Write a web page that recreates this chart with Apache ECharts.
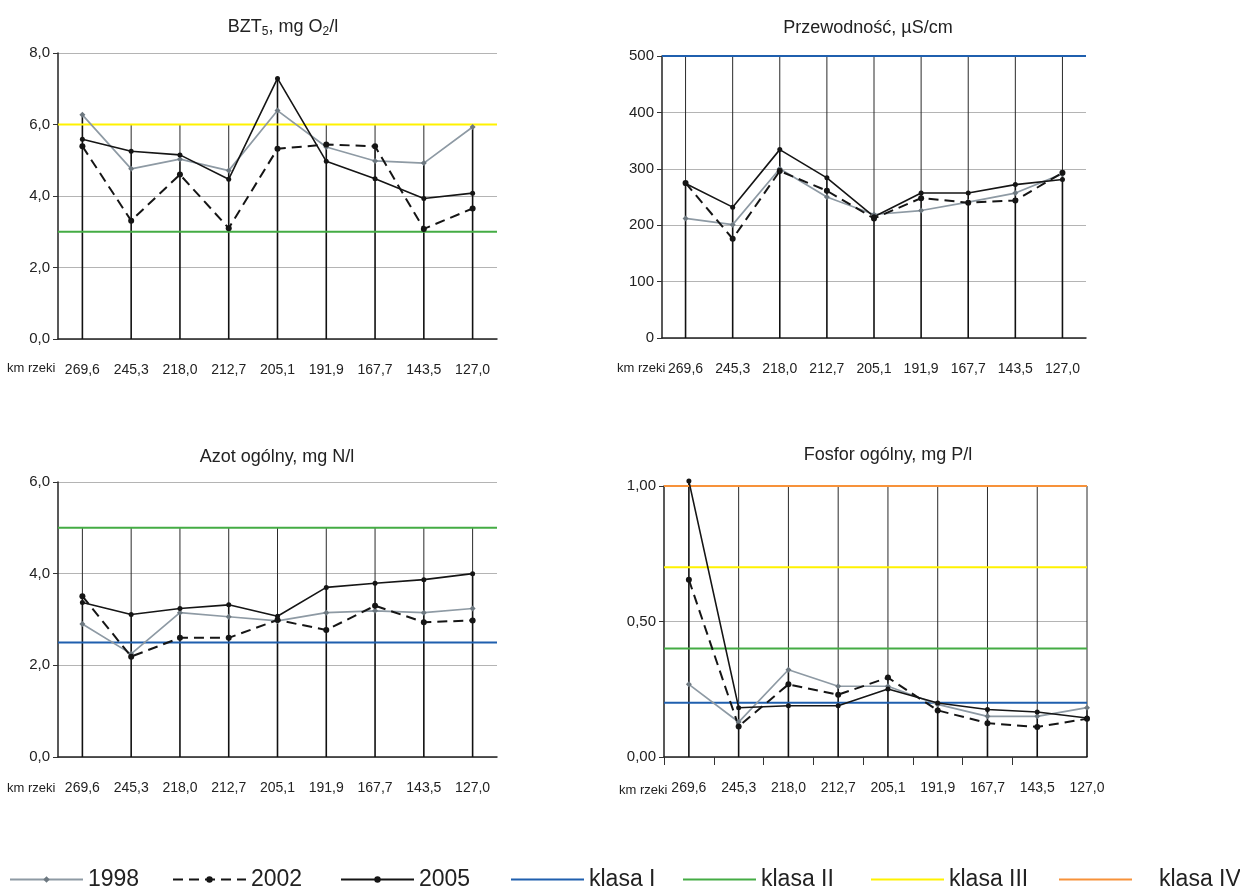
<!DOCTYPE html>
<html><head><meta charset="utf-8">
<script src="https://cdn.jsdelivr.net/npm/echarts@6/dist/echarts.min.js"></script>
<style>html,body{margin:0;padding:0;background:#fff}#c{width:1240px;height:888px}</style>
</head><body><div id="c"></div>
<script>
// ---- data ----
const categories = ['269,6','245,3','218,0','212,7','205,1','191,9','167,7','143,5','127,0'];
const years = ['1998','2002','2005'];
const classNames = ['klasa I','klasa II','klasa III','klasa IV'];

const bzt1998 = [6.27, 4.76, 5.03, 4.71, 6.39, 5.37, 4.98, 4.92, 5.93];
const bzt2002 = [5.39, 3.31, 4.60, 3.10, 5.32, 5.44, 5.39, 3.08, 3.65];
const bzt2005 = [5.59, 5.25, 5.15, 4.47, 7.29, 4.97, 4.48, 3.93, 4.08];
const bztClasses = [null, 3.0, 6.0, null];

const prz1998 = [212, 201, 300, 250, 219, 226, 241, 257, 291];
const prz2002 = [275, 176, 296, 261, 212, 248, 240, 244, 293];
const prz2005 = [274, 232, 334, 284, 215, 257, 257, 272, 281];
const przClasses = [500, null, null, null];

const azot1998 = [2.90, 2.25, 3.15, 3.06, 2.97, 3.15, 3.19, 3.15, 3.24];
const azot2002 = [3.51, 2.19, 2.60, 2.60, 2.99, 2.77, 3.30, 2.94, 2.98];
const azot2005 = [3.37, 3.11, 3.24, 3.32, 3.07, 3.70, 3.79, 3.87, 4.00];
const azotClasses = [2.5, 5.0, null, null];

const fos1998 = [0.268, 0.129, 0.322, 0.261, 0.261, 0.194, 0.150, 0.150, 0.182];
const fos2002 = [0.654, 0.113, 0.268, 0.230, 0.293, 0.172, 0.125, 0.111, 0.141];
const fos2005 = [1.018, 0.182, 0.189, 0.189, 0.251, 0.199, 0.175, 0.166, 0.144];
const fosClasses = [0.2, 0.4, 0.7, 1.0];

const yTicks = [
  {max: 8, interval: 2, dec: 1},
  {max: 500, interval: 100, dec: 0},
  {max: 6, interval: 2, dec: 1},
  {max: 1, interval: 0.5, dec: 2}
];

// ---- layout / styles ----
const FONT = '"Liberation Sans",Arial,sans-serif';
const panels = [
  {rect:{left:58, width:439, top:53, height:286}, xmax:8.5, vals:[bzt1998,bzt2002,bzt2005], cls:bztClasses, ticks:false,
   title:'BZT{s|5}, mg O{s|2}/l', tx:278, ty:12, kmx:7, kmy:370},
  {rect:{left:662, width:424, top:56, height:282}, xmax:8.5, vals:[prz1998,prz2002,prz2005], cls:przClasses, ticks:false,
   title:'Przewodność, µS/cm', tx:863, ty:14, kmx:617, kmy:370},
  {rect:{left:58, width:439, top:482, height:275}, xmax:8.5, vals:[azot1998,azot2002,azot2005], cls:azotClasses, ticks:false,
   title:'Azot ogólny, mg N/l', tx:272, ty:443, kmx:7, kmy:790},
  {rect:{left:664, width:423, top:486, height:271}, xmax:8, vals:[fos1998,fos2002,fos2005], cls:fosClasses, ticks:true,
   title:'Fosfor ogólny, mg P/l', tx:883, ty:441, kmx:619, kmy:792}
];
const classColors = ['#1f5fae', '#44ac44', '#fff200', '#f7923a'];
const yearStyles = [
  {color:'#8e9aa4', width:1.7, type:'solid', symbol:'diamond', size:6, mcolor:'#6d7880'},
  {color:'#151515', width:2, type:[10,6], symbol:'circle', size:6, mcolor:'#151515'},
  {color:'#151515', width:1.6, type:'solid', symbol:'circle', size:5, mcolor:'#151515'}
];

const grids = [], xAxes = [], yAxes = [], series = [], titles = [], graphics = [];
const idx = categories.map((c, i) => i);

panels.forEach((p, g) => {
  grids.push(Object.assign({containLabel:false}, p.rect));
  xAxes.push({
    type:'value', gridIndex:g, min:-0.5, max:p.xmax,
    axisLine:{show:true, onZero:false, lineStyle:{color:'#222', width:1.5}},
    axisTick:{show:p.ticks, length:8, inside:false, customValues: idx.slice(0,8).map(i => i - 0.5), lineStyle:{color:'#333'}},
    axisLabel:{customValues: idx, formatter: v => categories[Math.round(v)], margin:24, fontSize:14, color:'#222', fontFamily:FONT},
    splitLine:{show:false}
  });
  const t = yTicks[g];
  yAxes.push({
    type:'value', gridIndex:g, min:0, max:t.max, interval:t.interval,
    axisLine:{show:true, onZero:false, lineStyle:{color:'#222', width:1.5}},
    axisTick:{show:true, length:5, lineStyle:{color:'#333'}},
    axisLabel:{formatter: v => v.toFixed(t.dec).replace('.', ','), margin:8, fontSize:15, color:'#222', fontFamily:FONT},
    splitLine:{show:true, lineStyle:{color:'#b4b4b4', width:1}}
  });

  // drop lines (vertical lines from axis up to highest value incl. class limits)
  const dataMax = idx.map(i => Math.max(...p.vals.map(a => a[i])));
  const clsMax = Math.max(...p.cls.filter(v => v != null));
  series.push({
    type:'custom', xAxisIndex:g, yAxisIndex:g, silent:true, z:1, clip:false,
    data: idx.map(i => [i, dataMax[i], Math.max(dataMax[i], clsMax)]),
    encode:{x:0, y:2},
    renderItem(params, api) {
      const x = api.value(0);
      const p0 = api.coord([x, 0]), p1 = api.coord([x, api.value(1)]), p2 = api.coord([x, api.value(2)]);
      return {type:'group', children:[
        {type:'line', shape:{x1:p0[0], y1:p0[1], x2:p1[0], y2:p1[1]}, style:{stroke:'#111', lineWidth:1.6}},
        {type:'line', shape:{x1:p1[0], y1:p1[1], x2:p2[0], y2:p2[1]}, style:{stroke:'#2a2a2a', lineWidth:1}}
      ]};
    }
  });

  // class limit lines
  p.cls.forEach((v, k) => {
    if (v == null) return;
    series.push({
      name:classNames[k], type:'line', xAxisIndex:g, yAxisIndex:g, silent:true, z:2,
      data:[[-0.5, v], [p.xmax, v]], symbol:'none',
      lineStyle:{color:classColors[k], width:2}, itemStyle:{color:classColors[k]}
    });
  });

  // year series
  p.vals.forEach((arr, k) => {
    const s = yearStyles[k];
    series.push({
      name:years[k], type:'line', xAxisIndex:g, yAxisIndex:g, z:3, clip:false,
      data: arr.map((v, i) => [i, v]),
      symbol:s.symbol, symbolSize:s.size, showSymbol:true,
      lineStyle:{color:s.color, width:s.width, type:s.type},
      itemStyle:{color:s.mcolor}
    });
  });

  titles.push({
    text:p.title, left:p.tx, top:p.ty, textAlign:'center',
    textStyle:{fontSize:18, fontWeight:'normal', color:'#222', fontFamily:FONT,
      rich:{s:{fontSize:12, fontFamily:FONT, color:'#222', padding:[9,0,0,0]}}}
  });
  graphics.push({type:'text', left:p.kmx, top:p.kmy - 8,
    style:{text:'km rzeki', fontSize:13, fill:'#222', fontFamily:FONT}});
});

// legends, one per item for exact placement
const legendItems = [
  {name:'1998', x:9}, {name:'2002', x:172}, {name:'2005', x:340},
  {name:'klasa I', x:510, line:true}, {name:'klasa II', x:682, line:true},
  {name:'klasa III', x:870, line:true}, {name:'klasa IV', x:1058, pad:22, line:true}
];
const legends = legendItems.map(it => ({
  data:[it.name], left:it.x, top:868, padding:0, itemWidth:73, itemHeight:8, itemGap:0, selectedMode:false,
  itemStyle: it.line ? {opacity:0} : {},
  textStyle:{fontSize:23, color:'#222', fontFamily:FONT, padding:[0,0,0,it.pad || 0]}
}));

const chart = echarts.init(document.getElementById('c'), null, {renderer:'canvas'});
chart.setOption({
  backgroundColor:'#fff', animation:false,
  title:titles, grid:grids, xAxis:xAxes, yAxis:yAxes, series:series, legend:legends, graphic:graphics
});
</script></body></html>
